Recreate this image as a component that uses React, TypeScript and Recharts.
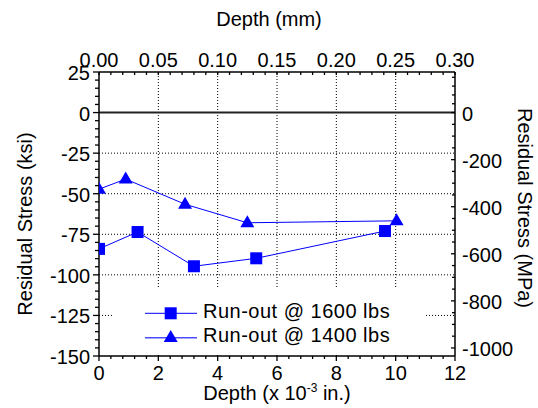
import {
  LineChart,
  Line,
  XAxis,
  YAxis,
  ReferenceLine,
  Legend,
} from "recharts";

// Depth (x 10^-3 in.) vs residual stress (ksi)
const run1600 = [
  { x: 0, y: -84 },
  { x: 1.3, y: -73.6 },
  { x: 3.2, y: -94.7 },
  { x: 5.3, y: -89.8 },
  { x: 9.64, y: -73 },
];

const run1400 = [
  { x: 0, y: -47.2 },
  { x: 0.9, y: -41 },
  { x: 2.9, y: -56.5 },
  { x: 5.0, y: -67.9 },
  { x: 10.03, y: -66.7 },
];

const seriesNames = ["Run-out @ 1600 lbs", "Run-out @ 1400 lbs"];

const bottomMajor = [0, 2, 4, 6, 8, 10, 12];
const topMajor = [0, 0.05, 0.1, 0.15, 0.2, 0.25, 0.3];
const leftMajor = [25, 0, -25, -50, -75, -100, -125, -150];
const rightMajor = [0, -200, -400, -600, -800, -1000];
const gridX = [2, 4, 6, 8, 10];
const gridY = [-25, -50, -75, -100, -125];

const KSI_TO_MPA = 6.89476;
const FONT = "'Liberation Sans', Arial, sans-serif";
const BLUE = "#0000ff";

// build tick lists with minor ticks in between the majors
const withMinors = (majors: number[], parts: number) => {
  const out: number[] = [];
  for (let i = 0; i < majors.length - 1; i++) {
    const a = majors[i];
    const b = majors[i + 1];
    for (let k = 0; k < parts; k++) out.push(+(a + ((b - a) * k) / parts).toFixed(6));
  }
  out.push(majors[majors.length - 1]);
  return out;
};

const bottomTicks = withMinors(bottomMajor, 5);
const topTicks = withMinors(topMajor, 5);
const leftTicks = withMinors(leftMajor, 5);
const rightTicks = withMinors([150, ...rightMajor], 4).filter((v) => v <= 150);

const isIn = (list: number[]) => (v: number) => list.some((m) => Math.abs(m - v) < 1e-6);

const makeTick =
  (side: "left" | "right" | "top" | "bottom", majors: number[], fmt: (v: number) => string, majorLen: number, minorLen: number) =>
  (props: any) => {
    const { x, y, payload } = props;
    const v = payload.value;
    const major = isIn(majors)(v);
    const len = major ? majorLen : minorLen;
    const common = { fontFamily: FONT, fontSize: 20, fill: "#000" };
    if (side === "left") {
      return (
        <g>
          <line x1={x - len} x2={x} y1={y} y2={y} stroke="#000" strokeWidth={1.3} />
          {major && (
            <text x={x - 9} y={y} dy="0.4em" textAnchor="end" {...common}>
              {fmt(v)}
            </text>
          )}
        </g>
      );
    }
    if (side === "right") {
      return (
        <g>
          <line x1={x - len} x2={x} y1={y} y2={y} stroke="#000" strokeWidth={1.3} />
          {major && (
            <text x={x + 7} y={y} dy="0.4em" textAnchor="start" {...common}>
              {fmt(v)}
            </text>
          )}
        </g>
      );
    }
    if (side === "top") {
      return (
        <g>
          <line x1={x} x2={x} y1={y} y2={y + len} stroke="#000" strokeWidth={1.3} />
          {major && (
            <text x={x} y={y - 5.5} textAnchor="middle" {...common}>
              {fmt(v)}
            </text>
          )}
        </g>
      );
    }
    return (
      <g>
        <line x1={x} x2={x} y1={y} y2={y + len} stroke="#000" strokeWidth={1.3} />
        {major && (
          <text x={x} y={y + 24} textAnchor="middle" {...common}>
            {fmt(v)}
          </text>
        )}
      </g>
    );
  };

const Square = (props: any) => {
  const { cx, cy } = props;
  if (cx == null || cy == null) return null;
  return <rect x={cx - 6} y={cy - 6} width={12} height={12} fill={BLUE} />;
};

const Triangle = (props: any) => {
  const { cx, cy } = props;
  if (cx == null || cy == null) return null;
  return <polygon points={`${cx},${cy - 7.5} ${cx - 7},${cy + 4.5} ${cx + 7},${cy + 4.5}`} fill={BLUE} />;
};

const LegendBox = () => (
  <div style={{ width: 311, height: 64, background: "#fff" }}>
    <svg width={311} height={64}>
      <line x1={31} x2={83} y1={24.3} y2={24.3} stroke={BLUE} strokeWidth={1} />
      <rect x={50.7} y={18.3} width={12} height={12} fill={BLUE} />
      <text x={89} y={28.7} fontFamily={FONT} fontSize={20} letterSpacing={0.5} fill="#000">
        {seriesNames[0]}
      </text>
      <line x1={31} x2={83} y1={48.8} y2={48.8} stroke={BLUE} strokeWidth={1.5} strokeOpacity={0.7} />
      <polygon points="56.7,41 49.7,53 63.7,53" fill={BLUE} />
      <text x={89} y={52.7} fontFamily={FONT} fontSize={20} letterSpacing={0.5} fill="#000">
        {seriesNames[1]}
      </text>
    </svg>
  </div>
);

const titleStyle = { fontFamily: FONT, fontSize: 20, fill: "#000" };

export default function App() {
  return (
    <div style={{ position: "absolute", left: 0, top: 0, background: "#fff" }}>
      <LineChart width={538} height={408} margin={{ top: 0, right: 0, bottom: 0, left: 0 }}>
        <XAxis
          xAxisId="bottom"
          type="number"
          dataKey="x"
          orientation="bottom"
          domain={[0, 12]}
          allowDataOverflow
          ticks={bottomTicks}
          interval={0}
          height={52}
          tickSize={0}
          tickMargin={0}
          tickLine={false}
          axisLine={{ stroke: "#000", strokeWidth: 1.5 }}
          tick={makeTick("bottom", bottomMajor, (v) => String(v), 5, 3)}
          label={{
            content: () => (
              <text x={277} y={400} textAnchor="middle" {...titleStyle}>
                Depth (x 10
                <tspan dy={-8} fontSize={12}>
                  -3
                </tspan>
                <tspan dy={8}> in.)</tspan>
              </text>
            ),
          }}
        />
        <XAxis
          xAxisId="top"
          type="number"
          dataKey="x"
          orientation="top"
          domain={[0, 0.3]}
          allowDataOverflow
          ticks={topTicks}
          interval={0}
          height={72}
          tickSize={0}
          tickMargin={0}
          tickLine={false}
          axisLine={{ stroke: "#000", strokeWidth: 1.5 }}
          tick={makeTick("top", topMajor, (v) => v.toFixed(2), 3, 3)}
          label={{
            content: () => (
              <text x={269} y={26} textAnchor="middle" {...titleStyle}>
                Depth (mm)
              </text>
            ),
          }}
        />
        <YAxis
          yAxisId="left"
          type="number"
          orientation="left"
          domain={[-150, 25]}
          allowDataOverflow
          ticks={leftTicks}
          interval={0}
          width={99}
          tickSize={0}
          tickMargin={0}
          tickLine={false}
          axisLine={{ stroke: "#000", strokeWidth: 1.5 }}
          tick={makeTick("left", leftMajor, (v) => String(v), 6, 4)}
          label={{
            content: () => (
              <text transform="translate(32,224) rotate(-90)" textAnchor="middle" {...titleStyle}>
                Residual Stress (ksi)
              </text>
            ),
          }}
        />
        <YAxis
          yAxisId="right"
          type="number"
          orientation="right"
          domain={[-150 * KSI_TO_MPA, 25 * KSI_TO_MPA]}
          allowDataOverflow
          ticks={rightTicks}
          interval={0}
          width={83}
          tickSize={0}
          tickMargin={0}
          tickLine={false}
          axisLine={{ stroke: "#000", strokeWidth: 1.5 }}
          tick={makeTick("right", rightMajor, (v) => String(v), 4, 3)}
          label={{
            content: () => (
              <text transform="translate(518,208) rotate(90)" textAnchor="middle" {...titleStyle}>
                Residual Stress (MPa)
              </text>
            ),
          }}
        />
        {gridX.map((v) => (
          <ReferenceLine key={`gx${v}`} xAxisId="bottom" yAxisId="left" x={v} stroke="#000" strokeDasharray="1 2" />
        ))}
        {gridY.map((v) => (
          <ReferenceLine key={`gy${v}`} xAxisId="bottom" yAxisId="left" y={v} stroke="#000" strokeDasharray="1 2" />
        ))}
        <ReferenceLine xAxisId="bottom" yAxisId="left" y={0} stroke="#222" strokeWidth={2} />
        <Line
          data={run1600}
          xAxisId="bottom"
          yAxisId="left"
          dataKey="y"
          name={seriesNames[0]}
          stroke={BLUE}
          strokeWidth={1}
          dot={<Square />}
          activeDot={false}
          isAnimationActive={false}
        />
        <Line
          data={run1400}
          xAxisId="bottom"
          yAxisId="left"
          dataKey="y"
          name={seriesNames[1]}
          stroke={BLUE}
          strokeWidth={1}
          dot={<Triangle />}
          activeDot={false}
          isAnimationActive={false}
        />
        <Legend
          layout="horizontal"
          verticalAlign="middle"
          align="center"
          content={() => <LegendBox />}
          wrapperStyle={{ left: 114, top: 289, width: 311, height: 64 }}
        />
      </LineChart>
    </div>
  );
}
